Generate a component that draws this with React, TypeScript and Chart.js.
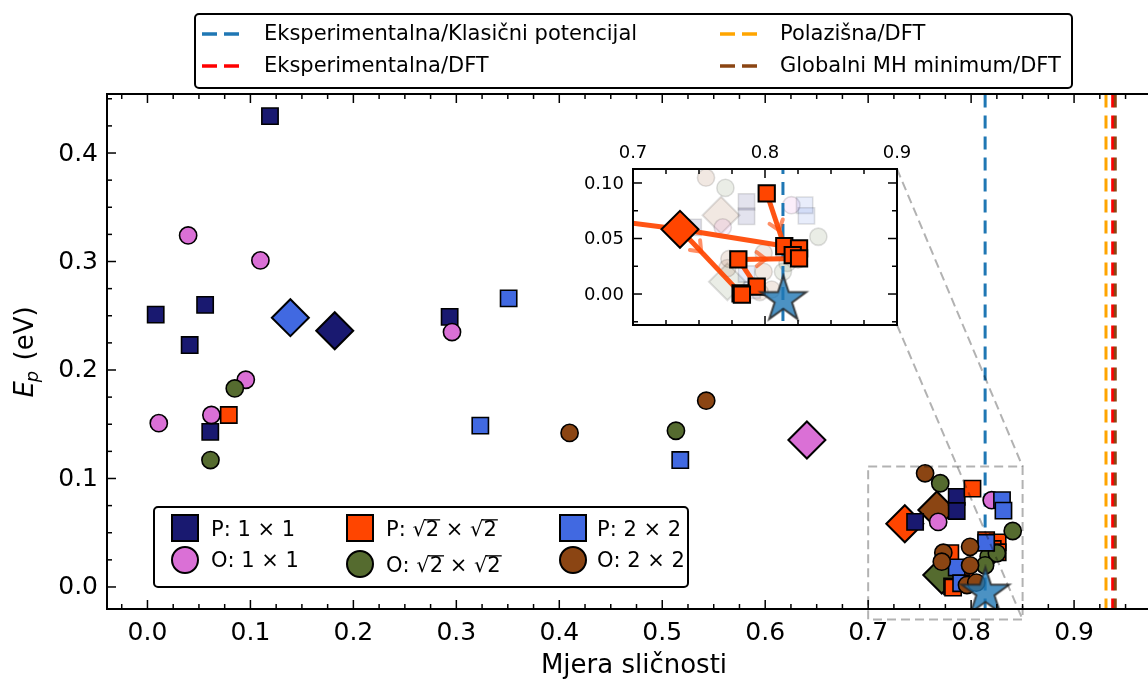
import React, { useEffect, useRef } from "react";
import { Chart, registerables } from "chart.js";
Chart.register(...registerables);

const W = 1148;
const H = 682;
const FONT = '"DejaVu Sans", "Liberation Sans", sans-serif';

// ---------------- data ----------------
// P: 1x1
const p1X = [0.119, 0.008, 0.056, 0.041, 0.061, 0.2935, 0.7456, 0.786, 0.786];
const p1Y = [0.434, 0.251, 0.260, 0.223, 0.143, 0.249, 0.060, 0.083, 0.070];
// O: 1x1
const o1X = [0.0395, 0.1097, 0.011, 0.0621, 0.0955, 0.2958, 0.768, 0.820];
const o1Y = [0.324, 0.301, 0.151, 0.1585, 0.191, 0.235, 0.060, 0.080];
// P: sqrt2 x sqrt2
const ps2X = [0.079, 0.8013, 0.8146, 0.8258, 0.821, 0.8258, 0.7798, 0.7937, 0.7815, 0.7825];
const ps2Y = [0.1585, 0.0907, 0.0432, 0.0411, 0.035, 0.032, 0.0312, 0.0066, 0.0006, -0.0006];
// O: sqrt2 x sqrt2
const os2X = [0.0848, 0.0612, 0.5133, 0.770, 0.8404, 0.817, 0.825, 0.8136];
const os2Y = [0.183, 0.117, 0.144, 0.0956, 0.0516, 0.028, 0.031, 0.020];
// P: 2x2
const p2X = [0.3508, 0.3233, 0.5175, 0.830, 0.8314, 0.8146, 0.786, 0.7903];
const p2Y = [0.266, 0.1487, 0.117, 0.080, 0.0704, 0.0408, 0.018, 0.0034];
// O: 2x2
const o2X = [0.410, 0.5427, 0.7553, 0.799, 0.773, 0.7715, 0.799, 0.796, 0.805];
const o2Y = [0.142, 0.1717, 0.1048, 0.037, 0.0316, 0.0233, 0.020, 0.0018, 0.004];

// averages (large diamonds), same series order: P1, O1, PS2, OS2, P2, O2
const avgX = [0.1819, 0.6405, 0.7356, 0.7715, 0.1388, 0.7667];
const avgY = [0.2362, 0.1355, 0.0583, 0.011, 0.2482, 0.071];

// experimental structure (star)
const expX = [0.8139];
const expY = [-0.005];

// reference vertical lines
const refLineX = [0.8136, 0.931, 0.9375, 0.940];
const refLabels = [
  "Eksperimentalna/Klasični potencijal",
  "Polazišna/DFT",
  "Eksperimentalna/DFT",
  "Globalni MH minimum/DFT",
];

// trajectory of the P: sqrt2 x sqrt2 search (inset)
const pathAX = [0.079, 0.7356, 0.8146];
const pathAY = [0.1585, 0.0583, 0.0432];
const pathBX = [0.7356, 0.7815];
const pathBY = [0.0583, 0.0006];
const pathCX = [0.7798, 0.7937];
const pathCY = [0.0312, 0.0066];
const pathDX = [0.7798, 0.8258];
const pathDY = [0.0312, 0.032];
const pathEX = [0.8013, 0.8146];
const pathEY = [0.0907, 0.0432];
// arrows along paths: [path index into arrowPaths, fraction]
const arrowPathIdx = [1, 3, 4];
const arrowFrac = [0.35, 0.45, 0.7];

// axes ticks
const xMajor = [0, 0.1, 0.2, 0.3, 0.4, 0.5, 0.6, 0.7, 0.8, 0.9];
const xTickLabels = ["0.0", "0.1", "0.2", "0.3", "0.4", "0.5", "0.6", "0.7", "0.8", "0.9"];
const yMajor = [0, 0.1, 0.2, 0.3, 0.4];
const yTickLabels = ["0.0", "0.1", "0.2", "0.3", "0.4"];
const insetXMajor = [0.7, 0.8, 0.9];
const insetXLabels = ["0.7", "0.8", "0.9"];
const insetYMajor = [0, 0.05, 0.1];
const insetYLabels = ["0.00", "0.05", "0.10"];

// ---------------- styles ----------------
const seriesX = [p1X, o1X, ps2X, os2X, p2X, o2X];
const seriesY = [p1Y, o1Y, ps2Y, os2Y, p2Y, o2Y];
const seriesLabels = ["P: 1 × 1", "O: 1 × 1", "P: √2 × √2", "O: √2 × √2", "P: 2 × 2", "O: 2 × 2"];
const seriesColors = ["#191970", "#DA70D6", "#FF4500", "#556B2F", "#4169E1", "#8B4513"];
const seriesShapes = ["rect", "circle", "rect", "circle", "rect", "circle"];
const refColors = ["#1f77b4", "#FFA500", "#FF0000", "#8B4513"];

const MAIN_PAD = { left: 107, top: 94, right: 0, bottom: 73 };
const MAIN_X = { min: -0.0393, max: 0.9718 };
const MAIN_Y = { min: -0.0203, max: 0.4544 };
const INSET_PAD = { left: 633, top: 169, right: W - 897, bottom: H - 325 };
const INSET_X = { min: 0.7, max: 0.9 };
const INSET_Y = { min: -0.0279, max: 0.1126 };
const ZOOM_RECT = { x0: 0.7, x1: 0.85, y0: -0.03, y1: 0.111 };

function pts(xs: number[], ys: number[]) {
  return xs.map((x, i) => ({ x, y: ys[i] }));
}

function hexA(hex: string, a: number) {
  const h = hex.replace("#", "");
  const r = parseInt(h.slice(0, 2), 16);
  const g = parseInt(h.slice(2, 4), 16);
  const b = parseInt(h.slice(4, 6), 16);
  return `rgba(${r},${g},${b},${a})`;
}

function makeStar(R: number) {
  const c = document.createElement("canvas");
  const size = Math.ceil(2 * R + 6);
  c.width = size;
  c.height = size;
  const g = c.getContext("2d")!;
  const cx = size / 2;
  const cy = size / 2;
  const r = R * 0.381966;
  g.beginPath();
  for (let k = 0; k < 10; k++) {
    const ang = -Math.PI / 2 + (k * Math.PI) / 5;
    const rr = k % 2 === 0 ? R : r;
    const px = cx + rr * Math.cos(ang);
    const py = cy + rr * Math.sin(ang);
    if (k === 0) g.moveTo(px, py);
    else g.lineTo(px, py);
  }
  g.closePath();
  g.fillStyle = "rgba(31,119,180,0.8)";
  g.fill();
  g.lineWidth = 2;
  g.strokeStyle = "rgba(40,40,40,0.85)";
  g.lineJoin = "miter";
  g.stroke();
  return c;
}

function line(ctx: CanvasRenderingContext2D, x1: number, y1: number, x2: number, y2: number) {
  ctx.beginPath();
  ctx.moveTo(x1, y1);
  ctx.lineTo(x2, y2);
  ctx.stroke();
}

function minorList(start: number, end: number, step: number, majors: number[]) {
  const out: number[] = [];
  const n = Math.round((end - start) / step);
  for (let i = 0; i <= n; i++) {
    const v = +(start + i * step).toFixed(6);
    if (!majors.some((m) => Math.abs(m - v) < 1e-6)) out.push(v);
  }
  return out;
}

function drawMathText(ctx: CanvasRenderingContext2D, text: string, x: number, y: number, fs: number) {
  let cx = x;
  for (let i = 0; i < text.length; i++) {
    const ch = text[i];
    const w = ctx.measureText(ch).width;
    ctx.fillText(ch, cx, y);
    if (ch === "√" && i + 1 < text.length) {
      const nx = text[i + 1];
      const w2 = ctx.measureText(nx).width;
      ctx.fillText(nx, cx + w, y);
      ctx.fillRect(cx + w - 1.5, y - fs * 0.80, w2 + 2.5, Math.max(1.3, fs * 0.06));
      cx += w + w2;
      i++;
      continue;
    }
    cx += w;
  }
}

function drawFrameTicks(
  ctx: CanvasRenderingContext2D,
  a: { left: number; right: number; top: number; bottom: number },
  xs: any,
  ys: any,
  xMaj: number[],
  xMin: number[],
  yMaj: number[],
  yMin: number[],
  sides: { right: boolean }
) {
  ctx.save();
  ctx.strokeStyle = "#000";
  ctx.lineWidth = 1.5;
  const maj = 9;
  const mn = 5;
  for (const v of xMaj) {
    const px = xs.getPixelForValue(v);
    line(ctx, px, a.bottom, px, a.bottom - maj);
    line(ctx, px, a.top, px, a.top + maj);
  }
  for (const v of xMin) {
    const px = xs.getPixelForValue(v);
    line(ctx, px, a.bottom, px, a.bottom - mn);
    line(ctx, px, a.top, px, a.top + mn);
  }
  for (const v of yMaj) {
    const py = ys.getPixelForValue(v);
    line(ctx, a.left, py, a.left + maj, py);
    if (sides.right) line(ctx, a.right, py, a.right - maj, py);
  }
  for (const v of yMin) {
    const py = ys.getPixelForValue(v);
    line(ctx, a.left, py, a.left + mn, py);
    if (sides.right) line(ctx, a.right, py, a.right - mn, py);
  }
  ctx.lineWidth = 2;
  ctx.beginPath();
  if (sides.right) {
    ctx.rect(a.left, a.top, a.right - a.left, a.bottom - a.top);
  } else {
    ctx.moveTo(a.right + 2, a.top);
    ctx.lineTo(a.left, a.top);
    ctx.lineTo(a.left, a.bottom);
    ctx.lineTo(a.right + 2, a.bottom);
  }
  ctx.stroke();
  ctx.restore();
}

function drawMarker(ctx: CanvasRenderingContext2D, shape: string, x: number, y: number, size: number, color: string) {
  ctx.save();
  ctx.fillStyle = color;
  ctx.strokeStyle = "#000";
  ctx.lineWidth = 2;
  ctx.beginPath();
  if (shape === "rect") ctx.rect(x - size / 2, y - size / 2, size, size);
  else ctx.arc(x, y, size / 2, 0, Math.PI * 2);
  ctx.fill();
  ctx.stroke();
  ctx.restore();
}

export default function App() {
  const mainRef = useRef<HTMLCanvasElement>(null);
  const insetRef = useRef<HTMLCanvasElement>(null);

  useEffect(() => {
    const starMain = makeStar(25);
    const starInset = makeStar(24);

    // ---------- main chart ----------
    const mainSets: any[] = [];
    refLineX.forEach((v, i) => {
      mainSets.push({
        type: "line",
        data: [
          { x: v, y: -0.1 },
          { x: v, y: 0.6 },
        ],
        borderColor: refColors[i],
        borderWidth: 3,
        borderDash: [13, 8],
        pointRadius: 0,
        fill: false,
      });
    });
    avgX.forEach((x, i) => {
      mainSets.push({
        type: "scatter",
        data: [{ x, y: avgY[i] }],
        pointStyle: "rectRot",
        pointRadius: 18.5,
        backgroundColor: seriesColors[i],
        borderColor: "#000",
        borderWidth: 2,
      });
    });
    seriesX.forEach((xs, i) => {
      mainSets.push({
        type: "scatter",
        data: pts(xs, seriesY[i]),
        pointStyle: seriesShapes[i],
        pointRadius: seriesShapes[i] === "rect" ? 11.5 : 8.6,
        backgroundColor: seriesColors[i],
        borderColor: "#000",
        borderWidth: 1.6,
      });
    });
    mainSets.push({
      type: "scatter",
      data: pts(expX, expY),
      pointStyle: starMain,
      pointRadius: 25,
    });
    mainSets.forEach((d, i) => (d.order = mainSets.length - i));

    const mainPlugin = {
      id: "mainDecor",
      beforeDraw(chart: any) {
        const c = chart.ctx;
        c.save();
        c.fillStyle = "#fff";
        c.fillRect(0, 0, chart.width, chart.height);
        c.restore();
      },
      afterDatasetsDraw(chart: any) {
        const ctx: CanvasRenderingContext2D = chart.ctx;
        const a = chart.chartArea;
        const xs = chart.scales.x;
        const ys = chart.scales.y;

        // zoom indicator + connectors
        ctx.save();
        ctx.strokeStyle = "rgba(0,0,0,0.3)";
        ctx.lineWidth = 2;
        ctx.setLineDash([9, 5]);
        const rx0 = xs.getPixelForValue(ZOOM_RECT.x0);
        const rx1 = xs.getPixelForValue(ZOOM_RECT.x1);
        const ry0 = ys.getPixelForValue(ZOOM_RECT.y0);
        const ry1 = ys.getPixelForValue(ZOOM_RECT.y1);
        ctx.strokeRect(rx0, ry1, rx1 - rx0, ry0 - ry1);
        const ix1 = W - INSET_PAD.right;
        const iyTop = INSET_PAD.top;
        const iyBot = H - INSET_PAD.bottom;
        line(ctx, ix1, iyTop, rx1, ry1);
        line(ctx, ix1, iyBot, rx1, ry0);
        ctx.restore();

        const xMin = minorList(-0.025, 0.97, 0.025, xMajor);
        const yMin = minorList(0, 0.45, 0.025, yMajor);
        drawFrameTicks(ctx, a, xs, ys, xMajor, xMin, yMajor, yMin, { right: false });

        // tick labels
        ctx.save();
        ctx.fillStyle = "#000";
        ctx.font = `25px ${FONT}`;
        ctx.textAlign = "center";
        ctx.textBaseline = "alphabetic";
        xMajor.forEach((v, i) => ctx.fillText(xTickLabels[i], xs.getPixelForValue(v), 640));
        ctx.textAlign = "right";
        ctx.textBaseline = "middle";
        yMajor.forEach((v, i) => ctx.fillText(yTickLabels[i], 98, ys.getPixelForValue(v) + 1));

        // axis titles
        ctx.font = `26px ${FONT}`;
        ctx.textAlign = "center";
        ctx.textBaseline = "alphabetic";
        ctx.fillText("Mjera sličnosti", 634, 673);

        ctx.save();
        ctx.translate(33, 352);
        ctx.rotate(-Math.PI / 2);
        ctx.textAlign = "left";
        ctx.font = `italic 26px ${FONT}`;
        const wE = ctx.measureText("E").width;
        ctx.font = `italic 18px ${FONT}`;
        const wp = ctx.measureText("p").width;
        ctx.font = `26px ${FONT}`;
        const wRest = ctx.measureText(" (eV)").width;
        let sx = -(wE + wp + 1 + wRest) / 2;
        ctx.font = `italic 26px ${FONT}`;
        ctx.fillText("E", sx, 0);
        sx += wE;
        ctx.font = `italic 18px ${FONT}`;
        ctx.fillText("p", sx - 1, 5);
        sx += wp + 1;
        ctx.font = `26px ${FONT}`;
        ctx.fillText(" (eV)", sx, 0);
        ctx.restore();

        // top legend
        ctx.save();
        ctx.beginPath();
        (ctx as any).roundRect(195, 14, 877, 74, 4);
        ctx.fillStyle = "#fff";
        ctx.fill();
        ctx.strokeStyle = "#000";
        ctx.lineWidth = 2;
        ctx.stroke();
        const legCols = [
          { sx: 202, tx: 264 },
          { sx: 720, tx: 780 },
        ];
        const legRows = [34, 66];
        const legOrder = [
          [0, 0, 0],
          [2, 0, 1],
          [1, 1, 0],
          [3, 1, 1],
        ];
        ctx.font = `21px ${FONT}`;
        ctx.textAlign = "left";
        ctx.textBaseline = "middle";
        legOrder.forEach(([idx, col, row]) => {
          const cc = legCols[col];
          const yy = legRows[row];
          ctx.strokeStyle = refColors[idx];
          ctx.lineWidth = 3.5;
          ctx.setLineDash([15, 7]);
          line(ctx, cc.sx, yy, cc.sx + 39, yy);
          ctx.setLineDash([]);
          ctx.fillStyle = "#000";
          ctx.fillText(refLabels[idx], cc.tx, yy + 1);
        });
        ctx.restore();

        // bottom-left legend
        ctx.save();
        ctx.beginPath();
        (ctx as any).roundRect(154, 507, 534, 80, 4);
        ctx.fillStyle = "#fff";
        ctx.fill();
        ctx.strokeStyle = "#000";
        ctx.lineWidth = 2;
        ctx.stroke();
        const mCols = [185, 360, 573];
        const tCols = [211, 386, 597];
        const mRows = [[528, 560], [528, 564], [528, 560]];
        const tRows = [[536, 567], [536, 572], [536, 567]];
        ctx.font = `21px ${FONT}`;
        ctx.textAlign = "left";
        ctx.textBaseline = "alphabetic";
        for (let col = 0; col < 3; col++) {
          for (let row = 0; row < 2; row++) {
            const si = col * 2 + row;
            drawMarker(ctx, seriesShapes[si], mCols[col], mRows[col][row], 26, seriesColors[si]);
            ctx.fillStyle = "#000";
            drawMathText(ctx, seriesLabels[si], tCols[col], tRows[col][row], 21);
          }
        }
        ctx.restore();
        ctx.restore();
      },
    };

    const mainChart = new Chart(mainRef.current!, {
      type: "scatter",
      data: { datasets: mainSets },
      options: {
        animation: false,
        responsive: false,
        events: [],
        layout: { padding: MAIN_PAD, autoPadding: false },
        plugins: { legend: { display: false }, tooltip: { enabled: false } },
        scales: {
          x: { type: "linear", min: MAIN_X.min, max: MAIN_X.max, display: false },
          y: { type: "linear", min: MAIN_Y.min, max: MAIN_Y.max, display: false },
        },
      },
      plugins: [mainPlugin],
    } as any);

    // ---------- inset chart ----------
    const fade = 0.12;
    const insetSets: any[] = [];
    avgX.forEach((x, i) => {
      if (i === 2) return;
      insetSets.push({
        type: "scatter",
        data: [{ x, y: avgY[i] }],
        pointStyle: "rectRot",
        pointRadius: 18.5,
        backgroundColor: hexA(seriesColors[i], fade),
        borderColor: `rgba(0,0,0,${fade})`,
        borderWidth: 2,
      });
    });
    seriesX.forEach((xs, i) => {
      if (i === 2) return;
      insetSets.push({
        type: "scatter",
        data: pts(xs, seriesY[i]),
        pointStyle: seriesShapes[i],
        pointRadius: seriesShapes[i] === "rect" ? 11.5 : 8.6,
        backgroundColor: hexA(seriesColors[i], fade),
        borderColor: `rgba(0,0,0,${fade})`,
        borderWidth: 1.6,
      });
    });
    insetSets.push({
      type: "line",
      data: [
        { x: refLineX[0], y: -0.1 },
        { x: refLineX[0], y: 0.2 },
      ],
      borderColor: refColors[0],
      borderWidth: 3,
      borderDash: [13, 8],
      pointRadius: 0,
    });
    const arrowPaths = [
      [pathAX, pathAY],
      [pathBX, pathBY],
      [pathCX, pathCY],
      [pathDX, pathDY],
      [pathEX, pathEY],
    ];
    arrowPaths.forEach(([px, py]) => {
      insetSets.push({
        type: "line",
        data: pts(px, py),
        borderColor: "rgba(255,69,0,0.92)",
        borderWidth: 5,
        pointRadius: 0,
        tension: 0,
      });
    });
    insetSets.push({
      type: "scatter",
      data: pts(ps2X, ps2Y),
      pointStyle: "rect",
      pointRadius: 11.5,
      backgroundColor: seriesColors[2],
      borderColor: "#000",
      borderWidth: 2,
    });
    insetSets.push({
      type: "scatter",
      data: [{ x: avgX[2], y: avgY[2] }],
      pointStyle: "rectRot",
      pointRadius: 18.5,
      backgroundColor: seriesColors[2],
      borderColor: "#000",
      borderWidth: 2,
    });
    insetSets.push({
      type: "scatter",
      data: pts(expX, expY),
      pointStyle: starInset,
      pointRadius: 24,
    });
    insetSets.forEach((d, i) => (d.order = insetSets.length - i));

    const insetPlugin = {
      id: "insetDecor",
      beforeDatasetsDraw(chart: any) {
        const ctx = chart.ctx;
        const a = chart.chartArea;
        ctx.save();
        ctx.fillStyle = "#fff";
        ctx.fillRect(a.left, a.top, a.right - a.left, a.bottom - a.top);
        ctx.restore();
      },
      afterDatasetsDraw(chart: any) {
        const ctx: CanvasRenderingContext2D = chart.ctx;
        const a = chart.chartArea;
        const xs = chart.scales.x;
        const ys = chart.scales.y;

        // arrow chevrons
        ctx.save();
        ctx.beginPath();
        ctx.rect(a.left, a.top, a.right - a.left, a.bottom - a.top);
        ctx.clip();
        ctx.strokeStyle = "rgba(255,69,0,0.6)";
        ctx.lineWidth = 4;
        ctx.lineCap = "round";
        arrowPathIdx.forEach((pi, k) => {
          const [px, py] = arrowPaths[pi];
          const x1 = xs.getPixelForValue(px[0]);
          const y1 = ys.getPixelForValue(py[0]);
          const x2 = xs.getPixelForValue(px[px.length - 1]);
          const y2 = ys.getPixelForValue(py[py.length - 1]);
          const t = arrowFrac[k];
          const cx = x1 + (x2 - x1) * t;
          const cy = y1 + (y2 - y1) * t;
          const L = Math.hypot(x2 - x1, y2 - y1);
          const dx = (x2 - x1) / L;
          const dy = (y2 - y1) / L;
          const nx = -dy;
          const ny = dx;
          ctx.beginPath();
          ctx.moveTo(cx - 9 * dx + 7 * nx, cy - 9 * dy + 7 * ny);
          ctx.lineTo(cx, cy);
          ctx.lineTo(cx - 9 * dx - 7 * nx, cy - 9 * dy - 7 * ny);
          ctx.stroke();
        });
        ctx.restore();

        const xMin = minorList(0.7, 0.9, 0.025, insetXMajor);
        const yMin = minorList(-0.025, 0.1, 0.025, insetYMajor);
        drawFrameTicks(ctx, a, xs, ys, insetXMajor, xMin, insetYMajor, yMin, { right: true });

        ctx.save();
        ctx.fillStyle = "#000";
        ctx.font = `18px ${FONT}`;
        ctx.textAlign = "center";
        ctx.textBaseline = "alphabetic";
        insetXMajor.forEach((v, i) => ctx.fillText(insetXLabels[i], xs.getPixelForValue(v), 158));
        ctx.textAlign = "right";
        ctx.textBaseline = "middle";
        insetYMajor.forEach((v, i) => ctx.fillText(insetYLabels[i], 624, ys.getPixelForValue(v) + 1));
        ctx.restore();
      },
    };

    const insetChart = new Chart(insetRef.current!, {
      type: "scatter",
      data: { datasets: insetSets },
      options: {
        animation: false,
        responsive: false,
        events: [],
        layout: { padding: INSET_PAD, autoPadding: false },
        plugins: { legend: { display: false }, tooltip: { enabled: false } },
        scales: {
          x: { type: "linear", min: INSET_X.min, max: INSET_X.max, display: false },
          y: { type: "linear", min: INSET_Y.min, max: INSET_Y.max, display: false },
        },
      },
      plugins: [insetPlugin],
    } as any);

    return () => {
      mainChart.destroy();
      insetChart.destroy();
    };
  }, []);

  return (
    <div style={{ position: "absolute", left: 0, top: 0, width: W, height: H }}>
      <canvas ref={mainRef} width={W} height={H} style={{ position: "absolute", left: 0, top: 0 }} />
      <canvas ref={insetRef} width={W} height={H} style={{ position: "absolute", left: 0, top: 0 }} />
    </div>
  );
}
